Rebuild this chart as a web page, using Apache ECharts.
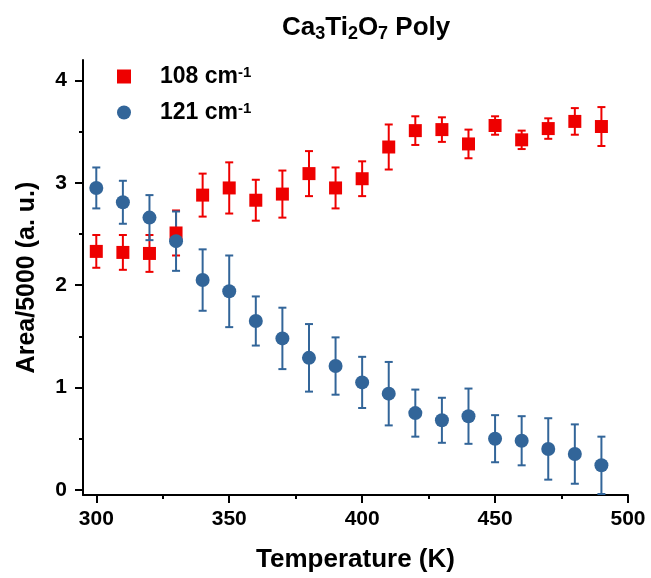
<!DOCTYPE html>
<html>
<head>
<meta charset="utf-8">
<script src="https://cdn.jsdelivr.net/npm/echarts@6/dist/echarts.min.js"></script>
<style>html,body{margin:0;padding:0;background:#fff;}#c{width:651px;height:578px;}</style>
</head>
<body>
<div id="c"></div>
<script>
const temps = [300,310,320,330,340,350,360,370,380,390,400,410,420,430,440,450,460,470,480,490];
const area108 = [2.33,2.32,2.31,2.51,2.88,2.95,2.83,2.89,3.09,2.95,3.04,3.35,3.51,3.52,3.38,3.56,3.42,3.53,3.60,3.55];
const err108 = [0.16,0.17,0.18,0.22,0.21,0.25,0.20,0.23,0.22,0.20,0.17,0.22,0.14,0.12,0.14,0.09,0.09,0.10,0.13,0.19];
const area121 = [2.95,2.81,2.66,2.43,2.05,1.94,1.65,1.48,1.29,1.21,1.05,0.94,0.75,0.68,0.72,0.50,0.48,0.40,0.35,0.24];
const err121 = [0.20,0.21,0.22,0.29,0.30,0.35,0.24,0.30,0.33,0.28,0.25,0.31,0.23,0.22,0.27,0.23,0.24,0.30,0.29,0.28];
const xMajor = [300,350,400,450,500];
const xMinor = [325,375,425,475];
const yMajor = [0,1,2,3,4];
const yMinor = [0.5,1.5,2.5,3.5];
const names = ['108 cm-1','121 cm-1'];

const RED = '#ee0000', BLUE = '#326599';
const FONT = 'Liberation Sans, Arial, sans-serif';

function errData(vals, errs){ return temps.map((t,i)=>[t, vals[i], errs[i]]); }
function ptData(vals){ return temps.map((t,i)=>[t, vals[i]]); }
function errRender(color){
  return function(params, api){
    const x = api.value(0), y = api.value(1), e = api.value(2);
    const top = api.coord([x, y + e]);
    const bot = api.coord([x, y - e]);
    const hw = 4;
    const st = {stroke: color, lineWidth: 2};
    return {type:'group', children:[
      {type:'line', shape:{x1:top[0], y1:top[1], x2:bot[0], y2:bot[1]}, style:st},
      {type:'line', shape:{x1:top[0]-hw, y1:top[1], x2:top[0]+hw, y2:top[1]}, style:st},
      {type:'line', shape:{x1:bot[0]-hw, y1:bot[1], x2:bot[0]+hw, y2:bot[1]}, style:st}
    ]};
  };
}

const chart = echarts.init(document.getElementById('c'), null, {renderer:'canvas'});
const axisCommonLabel = {fontFamily: FONT, fontWeight:'bold', fontSize:21, color:'#000'};
chart.setOption({
  animation:false,
  backgroundColor:'#fff',
  title:{
    text:'{n|Ca}{s|3}{n|Ti}{s|2}{n|O}{s|7}{n| Poly}',
    left:282, top:13, padding:0,
    textStyle:{
      rich:{
        n:{fontFamily:FONT, fontWeight:'bold', fontSize:26, color:'#000', lineHeight:30},
        s:{fontFamily:FONT, fontWeight:'bold', fontSize:18, color:'#000', lineHeight:10, verticalAlign:'bottom'}
      }
    }
  },
  legend:{
    data:names, orient:'vertical', left:117, top:65, padding:0, itemWidth:14, itemHeight:14, itemGap:13,
    formatter: n => '{t|' + n.slice(0, -2) + '}{p|' + n.slice(-2) + '}',
    textStyle:{
      rich:{
        t:{fontFamily:FONT, fontWeight:'bold', fontSize:23, color:'#000', lineHeight:22, padding:[0,0,0,24]},
        p:{fontFamily:FONT, fontWeight:'bold', fontSize:15, color:'#000', lineHeight:12, verticalAlign:'top'}
      }
    }
  },
  grid:{left:83, right:23, top:60, bottom:82},
  xAxis:[{
    type:'value', min:295, max:500, position:'bottom',
    name:'Temperature (K)', nameLocation:'middle', nameGap:52,
    nameTextStyle:{fontFamily:FONT, fontWeight:'bold', fontSize:26, color:'#000'},
    axisLine:{show:true, onZero:false, lineStyle:{color:'#000', width:2}},
    axisTick:{show:true, customValues:xMajor, length:8, lineStyle:{color:'#000', width:2}},
    axisLabel:Object.assign({customValues:xMajor, margin:14}, axisCommonLabel),
    splitLine:{show:false}
  },{
    type:'value', min:295, max:500, position:'bottom',
    axisLine:{show:false, onZero:false},
    axisTick:{show:true, customValues:xMinor, length:4, lineStyle:{color:'#000', width:2}},
    axisLabel:{show:false}, splitLine:{show:false}
  }],
  yAxis:[{
    type:'value', min:-0.05, max:4.2, position:'left',
    name:'Area/5000 (a. u.)', nameLocation:'middle', nameGap:43,
    nameTextStyle:{fontFamily:FONT, fontWeight:'bold', fontSize:25, color:'#000'},
    axisLine:{show:true, onZero:false, lineStyle:{color:'#000', width:2}},
    axisTick:{show:true, customValues:yMajor, length:8, lineStyle:{color:'#000', width:2}},
    axisLabel:Object.assign({customValues:yMajor, margin:16}, axisCommonLabel),
    splitLine:{show:false}
  },{
    type:'value', min:-0.05, max:4.2, position:'left',
    axisLine:{show:false, onZero:false},
    axisTick:{show:true, customValues:yMinor, length:4, lineStyle:{color:'#000', width:2}},
    axisLabel:{show:false}, splitLine:{show:false}
  }],
  series:[
    {name:'err108', type:'custom', renderItem:errRender(RED), data:errData(area108, err108), encode:{x:0,y:1}, z:2},
    {name:names[0], type:'scatter', symbol:'rect', symbolSize:13, itemStyle:{color:RED, opacity:1}, data:ptData(area108), z:2},
    {name:'err121', type:'custom', renderItem:errRender(BLUE), data:errData(area121, err121), encode:{x:0,y:1}, z:2},
    {name:names[1], type:'scatter', symbol:'circle', symbolSize:14, itemStyle:{color:BLUE, opacity:1}, data:ptData(area121), z:2}
  ]
});
</script>
</body>
</html>
